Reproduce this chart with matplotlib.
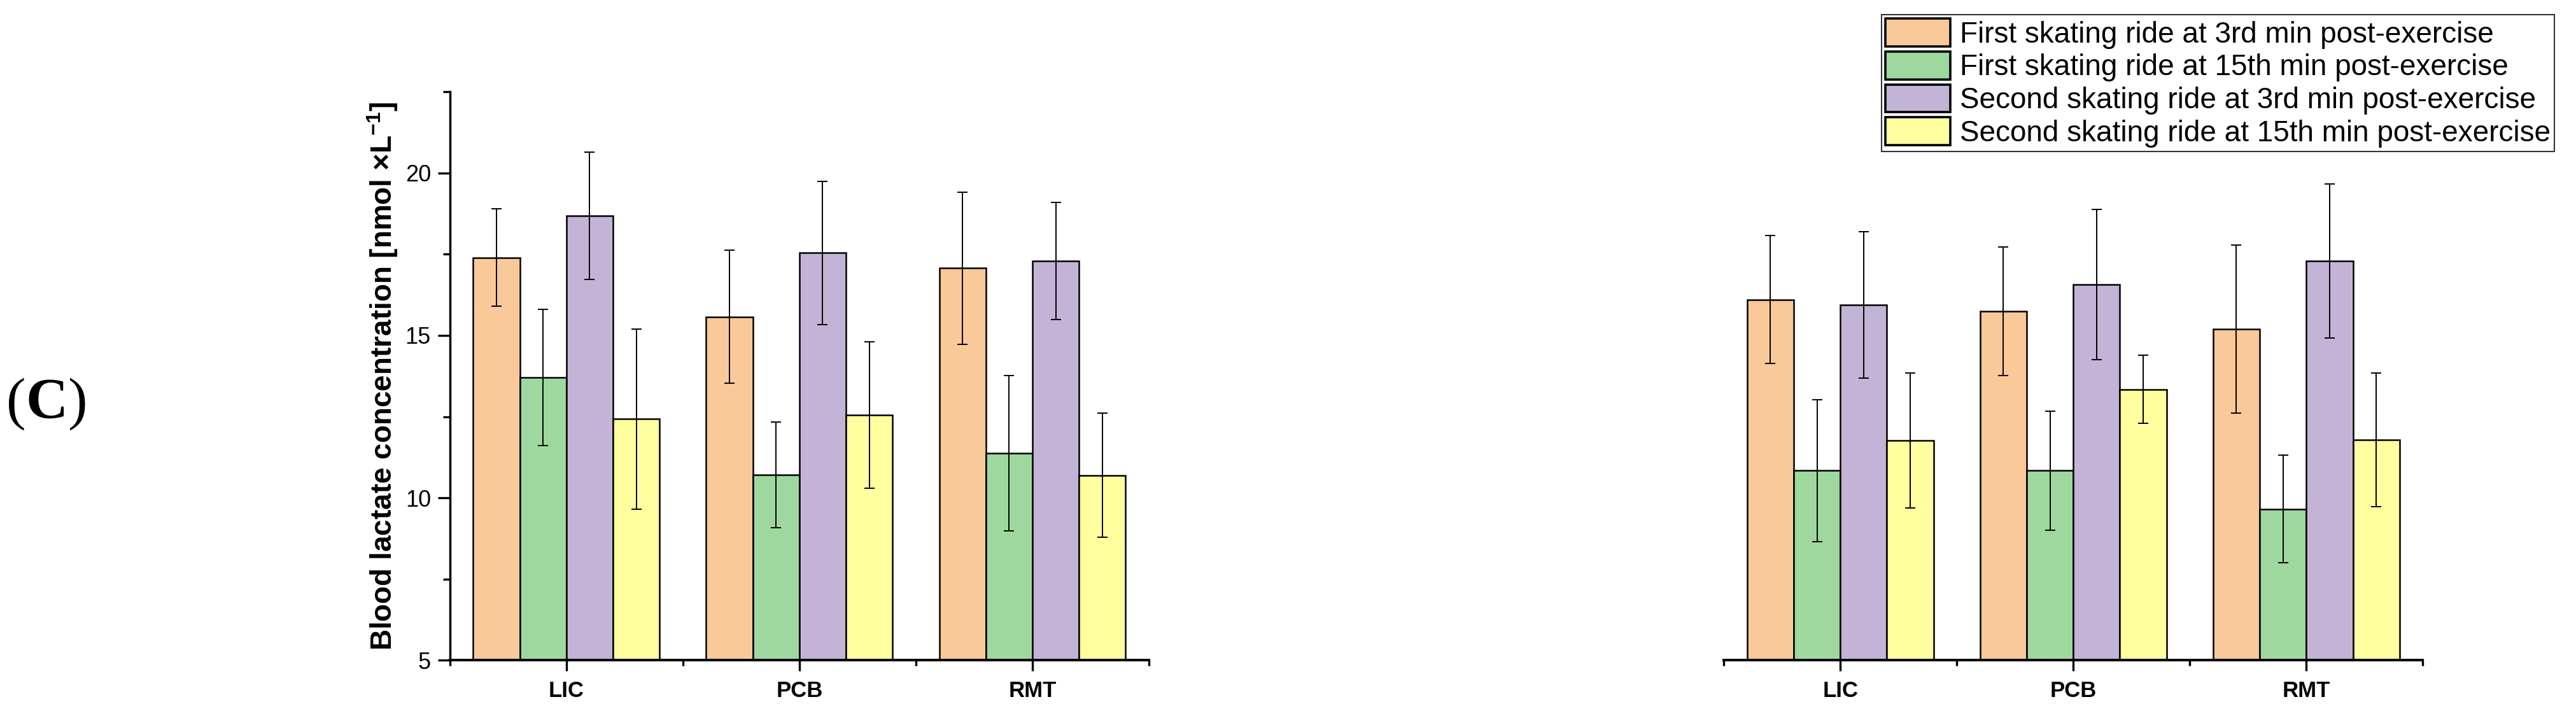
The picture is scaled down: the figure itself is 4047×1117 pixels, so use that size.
import matplotlib
matplotlib.use("Agg")
import matplotlib.pyplot as plt
import numpy as np

plt.rcParams['font.family'] = ['Liberation Sans', 'DejaVu Sans']
plt.rcParams['mathtext.fontset'] = 'custom'
plt.rcParams['mathtext.rm'] = 'Liberation Sans'
plt.rcParams['mathtext.bf'] = 'Liberation Sans:bold'

categories = ['LIC', 'PCB', 'RMT']
series_labels = ['First skating ride at 3rd min post-exercise',
                 'First skating ride at 15th min post-exercise',
                 'Second skating ride at 3rd min post-exercise',
                 'Second skating ride at 15th min post-exercise']
colors = ['#FAC999', '#9ED89E', '#C3B3D6', '#FFFFA0']

# Left panel
left_first3 = [17.39, 15.57, 17.07]
left_first3_err = [1.50, 2.05, 2.34]
left_first15 = [13.70, 10.71, 11.38]
left_first15_err = [2.10, 1.62, 2.39]
left_second3 = [18.68, 17.54, 17.29]
left_second3_err = [1.96, 2.20, 1.80]
left_second15 = [12.43, 12.55, 10.69]
left_second15_err = [2.77, 2.25, 1.91]

# Right panel
right_first3 = [16.10, 15.75, 15.19]
right_first3_err = [1.97, 1.98, 2.58]
right_first15 = [10.84, 10.84, 9.66]
right_first15_err = [2.18, 1.83, 1.66]
right_second3 = [15.94, 16.57, 17.29]
right_second3_err = [2.25, 2.31, 2.37]
right_second15 = [11.77, 13.34, 11.79]
right_second15_err = [2.08, 1.05, 2.06]

y_ticks = [5, 10, 15, 20]
y_minor = [7.5, 12.5, 17.5, 22.5]

W, H = 4048, 1117
fig = plt.figure(figsize=(W / 100, H / 100), dpi=100)
ax_l = fig.add_axes([0.1746, 0.0712, 0.2713, 0.7999])
ax_r = fig.add_axes([0.6690, 0.0712, 0.2713, 0.7999])

def draw(ax, means, errs, show_y):
    x = np.arange(len(categories))
    w = 0.2
    handles = []
    for i, (m, e) in enumerate(zip(means, errs)):
        pos = x + (i - 1.5) * w
        b = ax.bar(pos, m, width=w, color=colors[i], edgecolor='black',
                   linewidth=1.8, label=series_labels[i], zorder=2)
        ax.errorbar(pos, m, yerr=e, fmt='none', ecolor='black',
                    elinewidth=1.4, capsize=6, capthick=1.4, zorder=3)
        handles.append(b)
    ax.set_xlim(-0.5, 2.5)
    ax.set_ylim(5, 22.5)
    ax.set_xticks(x)
    ax.set_xticklabels(categories, fontsize=25, fontweight='bold')
    ax.set_xticks([-0.5, 0.5, 1.5, 2.5], minor=True)
    ax.tick_params(axis='x', which='major', direction='out', length=12.5,
                   width=2.4, pad=10)
    ax.tick_params(axis='x', which='minor', direction='out', length=6.5,
                   width=2.4)
    for s in ['top', 'right']:
        ax.spines[s].set_visible(False)
    ax.spines['bottom'].set_linewidth(2.9)
    if show_y:
        ax.spines['left'].set_linewidth(2.5)
        ax.set_yticks(y_ticks)
        ax.set_yticks(y_minor, minor=True)
        ax.tick_params(axis='y', which='major', direction='out', length=13.5,
                       width=2.4, labelsize=26, pad=8)
        ax.tick_params(axis='y', which='minor', direction='out', length=8,
                       width=2.4)
        ax.set_ylabel('Blood lactate concentration [nmol \u00d7L$^{\\mathbf{-1}}$]',
                      fontsize=33, fontweight='bold', labelpad=6)
    else:
        ax.spines['left'].set_visible(False)
        ax.set_yticks([])
        ax.set_yticks([], minor=True)
    return handles

draw(ax_l, [left_first3, left_first15, left_second3, left_second15],
     [left_first3_err, left_first15_err, left_second3_err, left_second15_err], True)
handles = draw(ax_r, [right_first3, right_first15, right_second3, right_second15],
               [right_first3_err, right_first15_err, right_second3_err, right_second15_err], False)

leg = fig.legend(handles, series_labels, loc='upper right',
                 bbox_to_anchor=(4013 / W, 1 - 23 / H), bbox_transform=fig.transFigure,
                 borderaxespad=0, frameon=True, fancybox=False,
                 edgecolor='black', handlelength=2.22, handleheight=1.09,
                 labelspacing=0.09, borderpad=0.14, handletextpad=0.32,
                 prop={'family': ['Liberation Sans', 'DejaVu Sans'], 'size': 33})
leg.get_frame().set_linewidth(1.5)
for p in leg.get_patches():
    p.set_linewidth(2.6)

# Panel label "(C)": regular parentheses, bold C
fig.canvas.draw()
renderer = fig.canvas.get_renderer()
ybase = 1 - 657 / H
serif = ['Liberation Serif', 'DejaVu Serif']
t1 = fig.text(10 / W, ybase, '(', fontsize=66, family=serif, ha='left', va='baseline')
bb = t1.get_window_extent(renderer)
t2 = fig.text(bb.x1 / W, ybase, 'C', fontsize=66, fontweight='bold', family=serif,
              ha='left', va='baseline')
bb2 = t2.get_window_extent(renderer)
fig.text(bb2.x1 / W, ybase, ')', fontsize=66, family=serif, ha='left', va='baseline')

fig.savefig('out.png', dpi=100)
